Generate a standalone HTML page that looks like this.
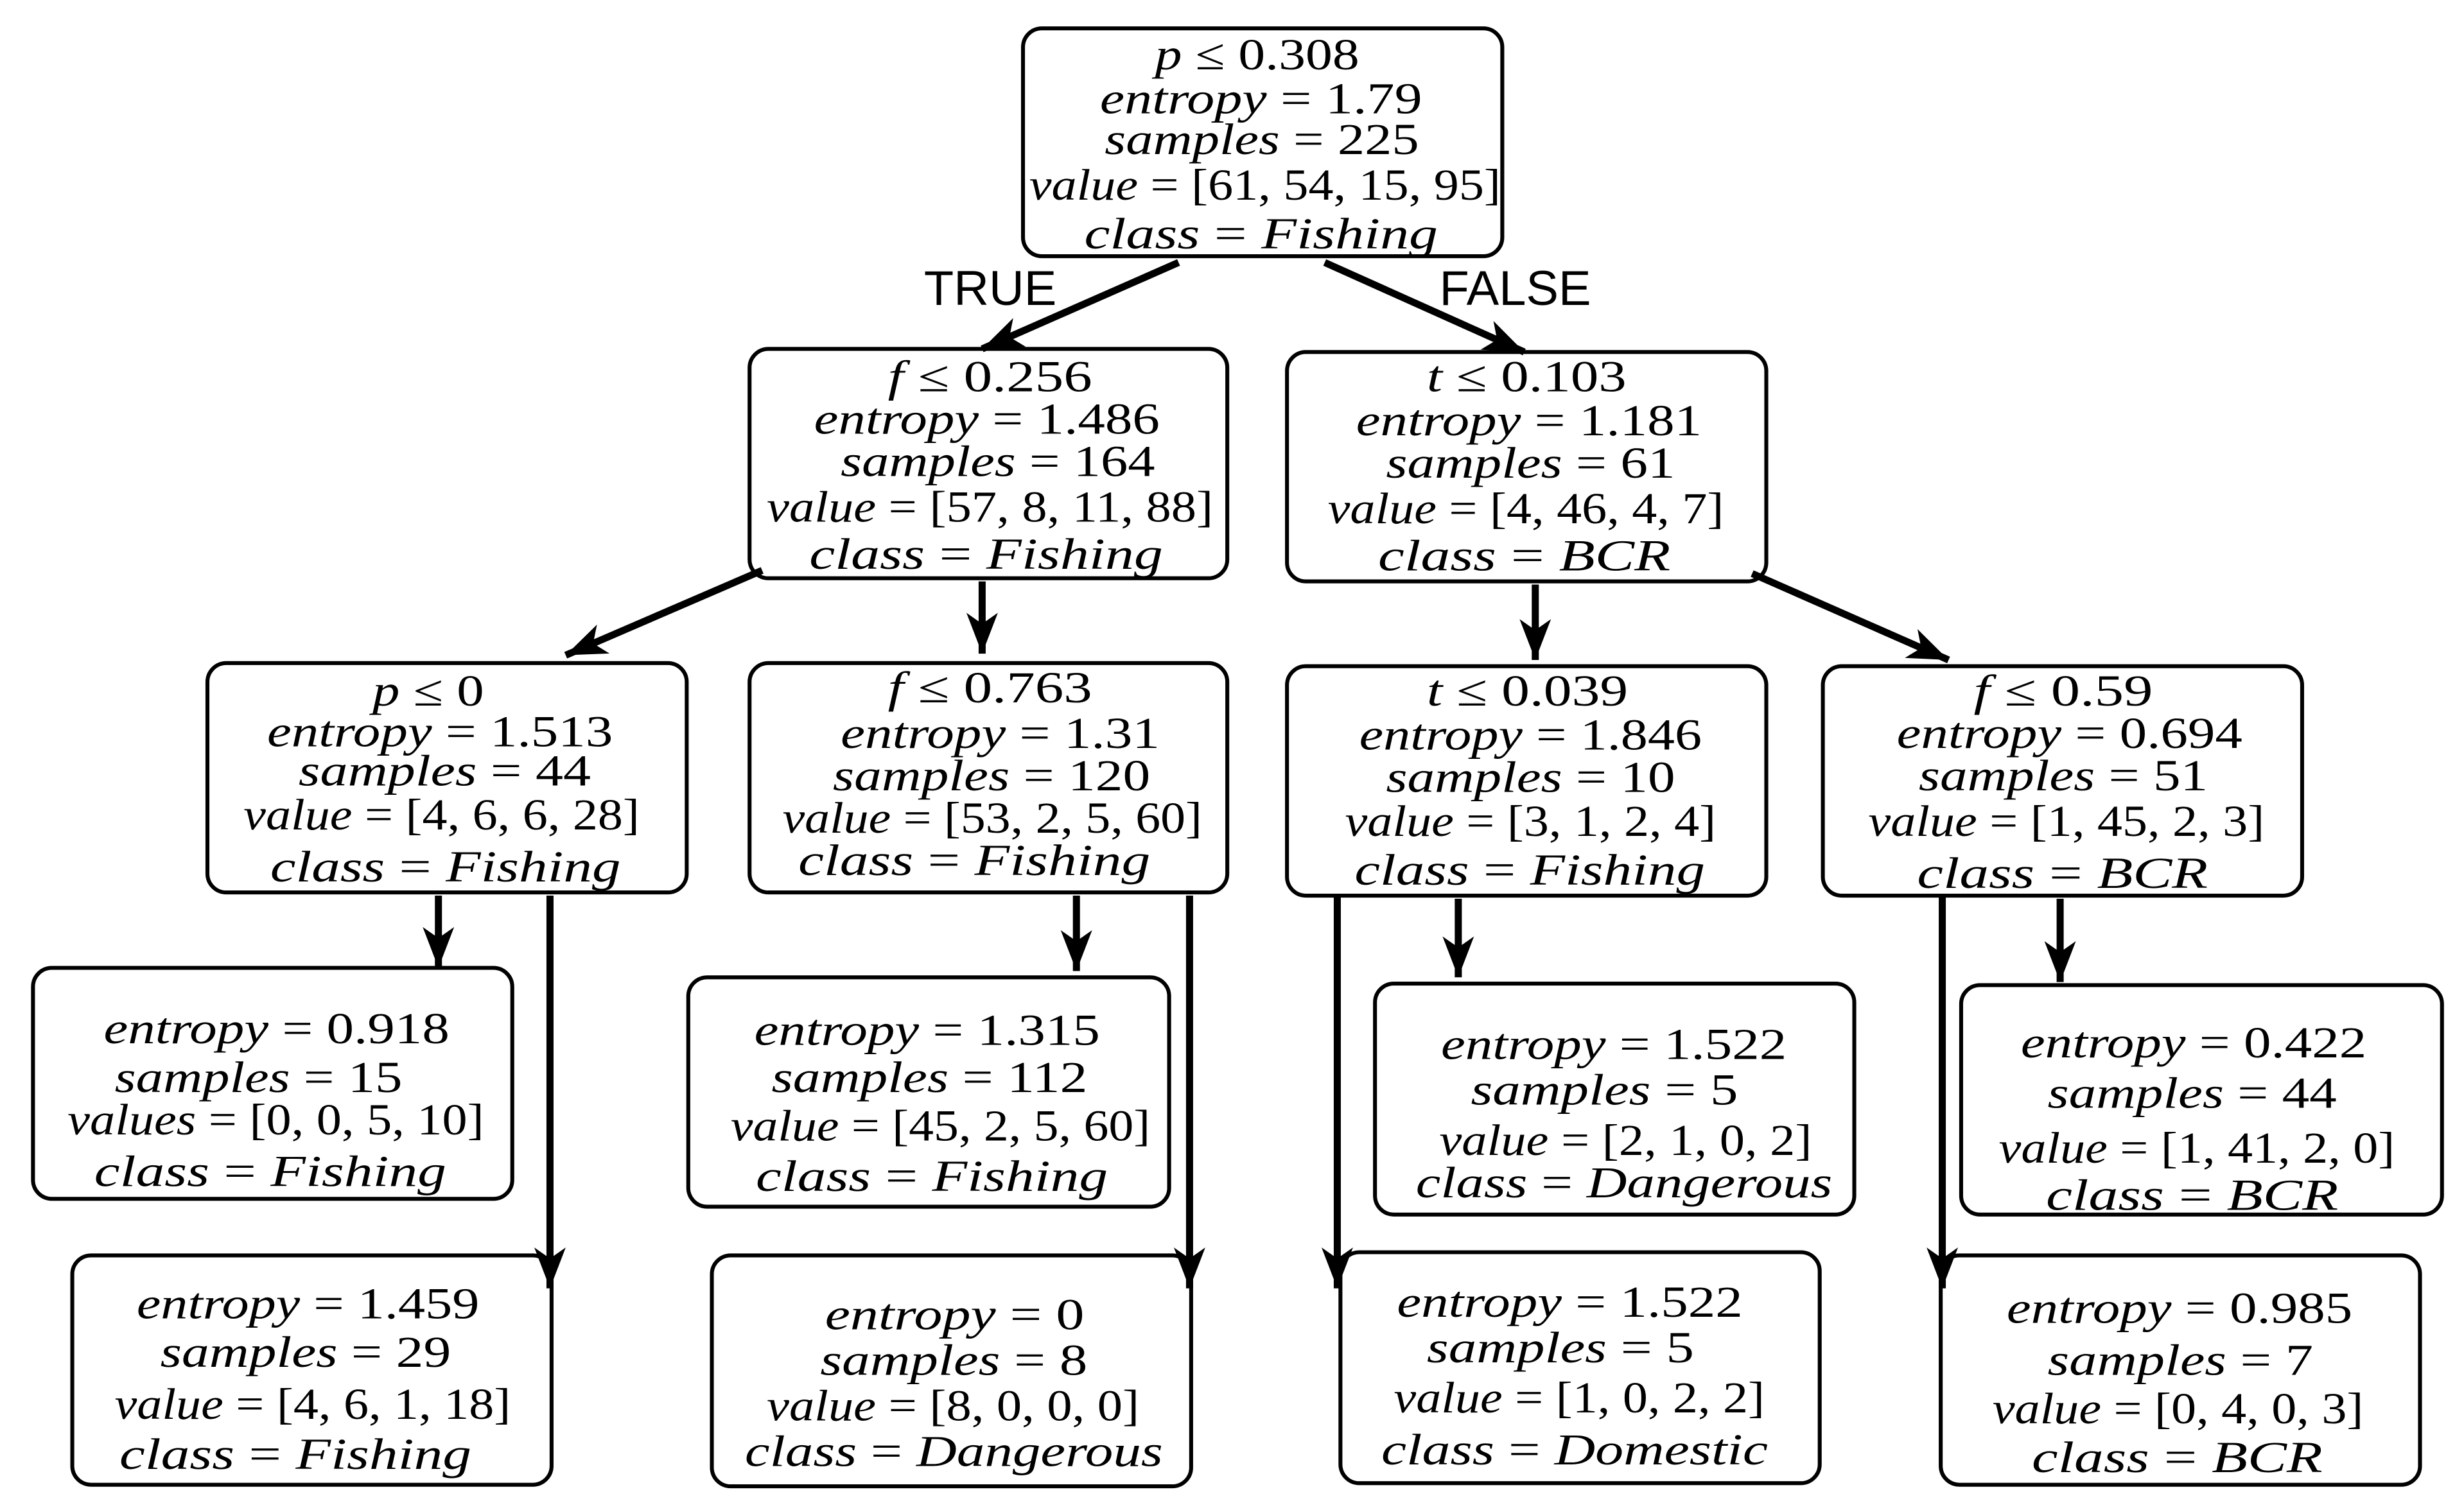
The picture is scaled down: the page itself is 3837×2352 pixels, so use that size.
<!DOCTYPE html>
<html><head><meta charset="utf-8"><style>
html,body{margin:0;padding:0;background:#fff}
svg{display:block}
text{font-family:"Liberation Serif",serif;font-style:italic;font-size:28px;fill:#000}
.u{font-style:normal}
.lab{font-family:"Liberation Sans",sans-serif;font-style:normal;font-size:31px}
</style></head><body>
<svg width="3837" height="2352" viewBox="0 0 1568 961" xmlns="http://www.w3.org/2000/svg">
<defs>
<marker id="ah" markerUnits="userSpaceOnUse" markerWidth="30" markerHeight="30" refX="26" refY="10" orient="auto">
<path d="M0,0 L26,10 L0,20 L7,10 Z" fill="#000"/>
</marker>
</defs>
<g fill="#fff" stroke="#000" stroke-width="2.5">
<rect x="651" y="18" width="305" height="145" rx="12"/>
<rect x="477" y="222" width="304" height="146" rx="12"/>
<rect x="819" y="224" width="305" height="146" rx="12"/>
<rect x="132" y="422" width="305" height="146" rx="12"/>
<rect x="477" y="422" width="304" height="146" rx="12"/>
<rect x="819" y="424" width="305" height="146" rx="12"/>
<rect x="1160" y="424" width="305" height="146" rx="12"/>
<rect x="21" y="616" width="305" height="147" rx="12"/>
<rect x="46" y="799" width="305" height="146" rx="12"/>
<rect x="438" y="622" width="306" height="146" rx="12"/>
<rect x="453" y="799" width="305" height="147" rx="12"/>
<rect x="875" y="626" width="305" height="147" rx="12"/>
<rect x="853" y="797" width="305" height="147" rx="12"/>
<rect x="1248" y="627" width="306" height="146" rx="12"/>
<rect x="1235" y="799" width="305" height="146" rx="12"/>
</g>
<g stroke="#000" stroke-width="4.5" marker-end="url(#ah)">
<line x1="750" y1="167" x2="625" y2="222"/>
<line x1="843" y1="167" x2="970" y2="224"/>
<line x1="485" y1="363" x2="360" y2="417"/>
<line x1="625" y1="370" x2="625" y2="416"/>
<line x1="977" y1="372" x2="977" y2="420"/>
<line x1="1115" y1="365" x2="1240" y2="420"/>
<line x1="279" y1="570" x2="279" y2="616"/>
<line x1="350" y1="570" x2="350" y2="820"/>
<line x1="685" y1="570" x2="685" y2="618"/>
<line x1="757" y1="570" x2="757" y2="820"/>
<line x1="928" y1="572" x2="928" y2="622"/>
<line x1="851" y1="570" x2="851" y2="820"/>
<line x1="1311" y1="572" x2="1311" y2="625"/>
<line x1="1236" y1="570" x2="1236" y2="820"/>
</g>
<text class="lab" x="588" y="194">TRUE</text>
<text class="lab" x="916" y="194">FALSE</text>
<g lengthAdjust="spacingAndGlyphs">
<!-- root -->
<text x="735" y="44" textLength="130" lengthAdjust="spacingAndGlyphs">p <tspan class="u">≤ 0.308</tspan></text>
<text x="700" y="72" textLength="205" lengthAdjust="spacingAndGlyphs">entropy <tspan class="u">= 1.79</tspan></text>
<text x="703" y="98" textLength="200" lengthAdjust="spacingAndGlyphs">samples <tspan class="u">= 225</tspan></text>
<text x="655" y="127" textLength="300" lengthAdjust="spacingAndGlyphs">value <tspan class="u">= [61, 54, 15, 95]</tspan></text>
<text x="690" y="158" textLength="225" lengthAdjust="spacingAndGlyphs">class <tspan class="u">=</tspan> Fishing</text>
<!-- L2 left -->
<text x="565" y="249" textLength="130" lengthAdjust="spacingAndGlyphs">f <tspan class="u">≤ 0.256</tspan></text>
<text x="518" y="276" textLength="220" lengthAdjust="spacingAndGlyphs">entropy <tspan class="u">= 1.486</tspan></text>
<text x="535" y="303" textLength="200" lengthAdjust="spacingAndGlyphs">samples <tspan class="u">= 164</tspan></text>
<text x="488" y="332" textLength="284" lengthAdjust="spacingAndGlyphs">value <tspan class="u">= [57, 8, 11, 88]</tspan></text>
<text x="515" y="362" textLength="225" lengthAdjust="spacingAndGlyphs">class <tspan class="u">=</tspan> Fishing</text>
<!-- L2 right -->
<text x="908" y="249" textLength="127" lengthAdjust="spacingAndGlyphs">t <tspan class="u">≤ 0.103</tspan></text>
<text x="863" y="277" textLength="220" lengthAdjust="spacingAndGlyphs">entropy <tspan class="u">= 1.181</tspan></text>
<text x="882" y="304" textLength="184" lengthAdjust="spacingAndGlyphs">samples <tspan class="u">= 61</tspan></text>
<text x="845" y="333" textLength="252" lengthAdjust="spacingAndGlyphs">value <tspan class="u">= [4, 46, 4, 7]</tspan></text>
<text x="877" y="363" textLength="186" lengthAdjust="spacingAndGlyphs">class <tspan class="u">=</tspan> BCR</text>
<!-- A -->
<text x="237" y="449" textLength="71" lengthAdjust="spacingAndGlyphs">p <tspan class="u">≤ 0</tspan></text>
<text x="170" y="475" textLength="220" lengthAdjust="spacingAndGlyphs">entropy <tspan class="u">= 1.513</tspan></text>
<text x="190" y="500" textLength="186" lengthAdjust="spacingAndGlyphs">samples <tspan class="u">= 44</tspan></text>
<text x="155" y="528" textLength="252" lengthAdjust="spacingAndGlyphs">value <tspan class="u">= [4, 6, 6, 28]</tspan></text>
<text x="172" y="561" textLength="223" lengthAdjust="spacingAndGlyphs">class <tspan class="u">=</tspan> Fishing</text>
<!-- B -->
<text x="565" y="447" textLength="130" lengthAdjust="spacingAndGlyphs">f <tspan class="u">≤ 0.763</tspan></text>
<text x="535" y="476" textLength="203" lengthAdjust="spacingAndGlyphs">entropy <tspan class="u">= 1.31</tspan></text>
<text x="530" y="503" textLength="202" lengthAdjust="spacingAndGlyphs">samples <tspan class="u">= 120</tspan></text>
<text x="498" y="530" textLength="267" lengthAdjust="spacingAndGlyphs">value <tspan class="u">= [53, 2, 5, 60]</tspan></text>
<text x="508" y="557" textLength="224" lengthAdjust="spacingAndGlyphs">class <tspan class="u">=</tspan> Fishing</text>
<!-- C -->
<text x="908" y="449" textLength="128" lengthAdjust="spacingAndGlyphs">t <tspan class="u">≤ 0.039</tspan></text>
<text x="865" y="477" textLength="218" lengthAdjust="spacingAndGlyphs">entropy <tspan class="u">= 1.846</tspan></text>
<text x="882" y="504" textLength="184" lengthAdjust="spacingAndGlyphs">samples <tspan class="u">= 10</tspan></text>
<text x="856" y="532" textLength="236" lengthAdjust="spacingAndGlyphs">value <tspan class="u">= [3, 1, 2, 4]</tspan></text>
<text x="862" y="563" textLength="223" lengthAdjust="spacingAndGlyphs">class <tspan class="u">=</tspan> Fishing</text>
<!-- D -->
<text x="1256" y="449" textLength="114" lengthAdjust="spacingAndGlyphs">f <tspan class="u">≤ 0.59</tspan></text>
<text x="1207" y="476" textLength="220" lengthAdjust="spacingAndGlyphs">entropy <tspan class="u">= 0.694</tspan></text>
<text x="1221" y="503" textLength="184" lengthAdjust="spacingAndGlyphs">samples <tspan class="u">= 51</tspan></text>
<text x="1189" y="532" textLength="252" lengthAdjust="spacingAndGlyphs">value <tspan class="u">= [1, 45, 2, 3]</tspan></text>
<text x="1220" y="565" textLength="185" lengthAdjust="spacingAndGlyphs">class <tspan class="u">=</tspan> BCR</text>
<!-- L1 -->
<text x="66" y="664" textLength="220" lengthAdjust="spacingAndGlyphs">entropy <tspan class="u">= 0.918</tspan></text>
<text x="73" y="695" textLength="183" lengthAdjust="spacingAndGlyphs">samples <tspan class="u">= 15</tspan></text>
<text x="43" y="722" textLength="265" lengthAdjust="spacingAndGlyphs">values <tspan class="u">= [0, 0, 5, 10]</tspan></text>
<text x="60" y="755" textLength="224" lengthAdjust="spacingAndGlyphs">class <tspan class="u">=</tspan> Fishing</text>
<!-- L2 -->
<text x="87" y="839" textLength="218" lengthAdjust="spacingAndGlyphs">entropy <tspan class="u">= 1.459</tspan></text>
<text x="102" y="870" textLength="185" lengthAdjust="spacingAndGlyphs">samples <tspan class="u">= 29</tspan></text>
<text x="73" y="903" textLength="252" lengthAdjust="spacingAndGlyphs">value <tspan class="u">= [4, 6, 1, 18]</tspan></text>
<text x="76" y="935" textLength="224" lengthAdjust="spacingAndGlyphs">class <tspan class="u">=</tspan> Fishing</text>
<!-- L3 -->
<text x="480" y="665" textLength="220" lengthAdjust="spacingAndGlyphs">entropy <tspan class="u">= 1.315</tspan></text>
<text x="491" y="695" textLength="201" lengthAdjust="spacingAndGlyphs">samples <tspan class="u">= 112</tspan></text>
<text x="465" y="726" textLength="267" lengthAdjust="spacingAndGlyphs">value <tspan class="u">= [45, 2, 5, 60]</tspan></text>
<text x="481" y="758" textLength="224" lengthAdjust="spacingAndGlyphs">class <tspan class="u">=</tspan> Fishing</text>
<!-- L4 -->
<text x="525" y="846" textLength="165" lengthAdjust="spacingAndGlyphs">entropy <tspan class="u">= 0</tspan></text>
<text x="522" y="875" textLength="170" lengthAdjust="spacingAndGlyphs">samples <tspan class="u">= 8</tspan></text>
<text x="488" y="904" textLength="237" lengthAdjust="spacingAndGlyphs">value <tspan class="u">= [8, 0, 0, 0]</tspan></text>
<text x="474" y="933" textLength="266" lengthAdjust="spacingAndGlyphs">class <tspan class="u">=</tspan> Dangerous</text>
<!-- L5 -->
<text x="917" y="674" textLength="220" lengthAdjust="spacingAndGlyphs">entropy <tspan class="u">= 1.522</tspan></text>
<text x="936" y="703" textLength="170" lengthAdjust="spacingAndGlyphs">samples <tspan class="u">= 5</tspan></text>
<text x="916" y="735" textLength="237" lengthAdjust="spacingAndGlyphs">value <tspan class="u">= [2, 1, 0, 2]</tspan></text>
<text x="901" y="762" textLength="265" lengthAdjust="spacingAndGlyphs">class <tspan class="u">=</tspan> Dangerous</text>
<!-- L6 -->
<text x="889" y="838" textLength="220" lengthAdjust="spacingAndGlyphs">entropy <tspan class="u">= 1.522</tspan></text>
<text x="908" y="867" textLength="170" lengthAdjust="spacingAndGlyphs">samples <tspan class="u">= 5</tspan></text>
<text x="887" y="899" textLength="236" lengthAdjust="spacingAndGlyphs">value <tspan class="u">= [1, 0, 2, 2]</tspan></text>
<text x="879" y="932" textLength="246" lengthAdjust="spacingAndGlyphs">class <tspan class="u">=</tspan> Domestic</text>
<!-- L7 -->
<text x="1286" y="673" textLength="220" lengthAdjust="spacingAndGlyphs">entropy <tspan class="u">= 0.422</tspan></text>
<text x="1303" y="705" textLength="184" lengthAdjust="spacingAndGlyphs">samples <tspan class="u">= 44</tspan></text>
<text x="1272" y="740" textLength="252" lengthAdjust="spacingAndGlyphs">value <tspan class="u">= [1, 41, 2, 0]</tspan></text>
<text x="1302" y="770" textLength="186" lengthAdjust="spacingAndGlyphs">class <tspan class="u">=</tspan> BCR</text>
<!-- L8 -->
<text x="1277" y="842" textLength="220" lengthAdjust="spacingAndGlyphs">entropy <tspan class="u">= 0.985</tspan></text>
<text x="1303" y="875" textLength="169" lengthAdjust="spacingAndGlyphs">samples <tspan class="u">= 7</tspan></text>
<text x="1268" y="906" textLength="236" lengthAdjust="spacingAndGlyphs">value <tspan class="u">= [0, 4, 0, 3]</tspan></text>
<text x="1293" y="937" textLength="185" lengthAdjust="spacingAndGlyphs">class <tspan class="u">=</tspan> BCR</text>
</g>
</svg>
</body></html>
